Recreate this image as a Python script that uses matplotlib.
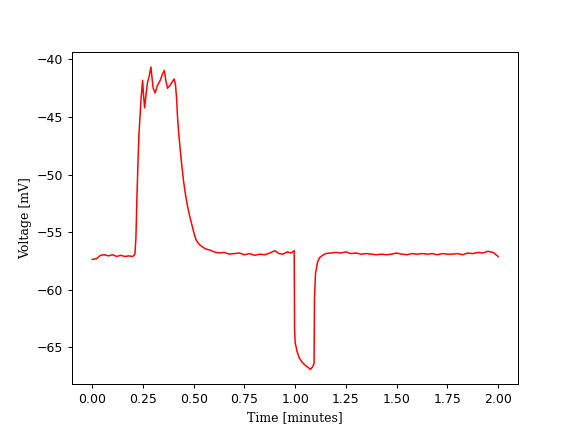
import matplotlib
matplotlib.use('Agg')
import matplotlib.pyplot as plt

# membrane voltage trace (time in minutes, voltage in mV)
time_min = [0.00, 0.02, 0.04, 0.06, 0.08, 0.10, 0.12, 0.14, 0.16, 0.18, 0.20, 0.21,
            0.215, 0.22, 0.225, 0.23, 0.235, 0.24, 0.248, 0.252, 0.258, 0.265, 0.272,
            0.28, 0.289, 0.295, 0.30, 0.31, 0.32, 0.335, 0.345, 0.355, 0.362, 0.371,
            0.385, 0.395, 0.404, 0.41, 0.416, 0.42, 0.425, 0.43, 0.44, 0.45, 0.46,
            0.47, 0.48, 0.49, 0.50, 0.51, 0.52, 0.53, 0.545, 0.56, 0.58, 0.60, 0.625,
            0.65, 0.675, 0.70, 0.725, 0.75, 0.775, 0.80, 0.825, 0.85, 0.875, 0.90,
            0.92, 0.94, 0.96, 0.98, 0.995, 0.997, 1.00, 1.01, 1.02, 1.035, 1.05,
            1.065, 1.075, 1.085, 1.093, 1.095, 1.10, 1.11, 1.12, 1.135, 1.15, 1.175,
            1.20, 1.225, 1.25, 1.275, 1.30, 1.325, 1.35, 1.375, 1.40, 1.425, 1.45,
            1.475, 1.50, 1.525, 1.55, 1.575, 1.60, 1.625, 1.65, 1.675, 1.70, 1.725,
            1.75, 1.775, 1.80, 1.825, 1.85, 1.875, 1.90, 1.925, 1.95, 1.975, 2.00]
voltage_mv = [-57.35, -57.3, -57.0, -56.95, -57.05, -56.95, -57.1, -57.0, -57.1, -57.05, -57.1, -56.9,
              -55.5, -52.0, -49.0, -46.5, -45.0, -43.5, -41.8, -43.0, -44.2, -43.0, -42.0,
              -41.5, -40.65, -41.7, -42.5, -42.9, -42.3, -41.8, -41.3, -40.95, -41.8, -42.5,
              -42.2, -41.9, -41.7, -42.2, -43.5, -45.0, -46.2, -47.2, -49.0, -50.6, -51.8,
              -52.8, -53.6, -54.3, -55.0, -55.6, -55.9, -56.1, -56.3, -56.45, -56.55, -56.7, -56.8,
              -56.75, -56.9, -56.85, -56.8, -56.95, -56.85, -57.0, -56.9, -56.95, -56.8, -56.6,
              -56.85, -56.9, -56.7, -56.8, -56.6, -63.5, -64.6, -65.4, -65.9, -66.3, -66.55,
              -66.75, -66.9, -66.7, -66.4, -60.7, -58.6, -57.6, -57.2, -57.0, -56.85, -56.8,
              -56.75, -56.8, -56.7, -56.85, -56.8, -56.9, -56.85, -56.9, -56.95, -56.9, -56.95,
              -56.9, -56.8, -56.9, -56.95, -56.85, -56.9, -56.85, -56.9, -56.85, -56.95, -56.85,
              -56.9, -56.9, -56.85, -56.95, -56.8, -56.85, -56.75, -56.8, -56.65, -56.75, -57.1]

fig, ax = plt.subplots(figsize=(6.4, 4.8), dpi=90)
ax.plot(time_min, voltage_mv, color='red', linewidth=1.2)

ax.set_xlabel('Time [minutes]', family='serif')
ax.set_ylabel('Voltage [mV]', family='serif')

fig.savefig('out.png', dpi=90)
